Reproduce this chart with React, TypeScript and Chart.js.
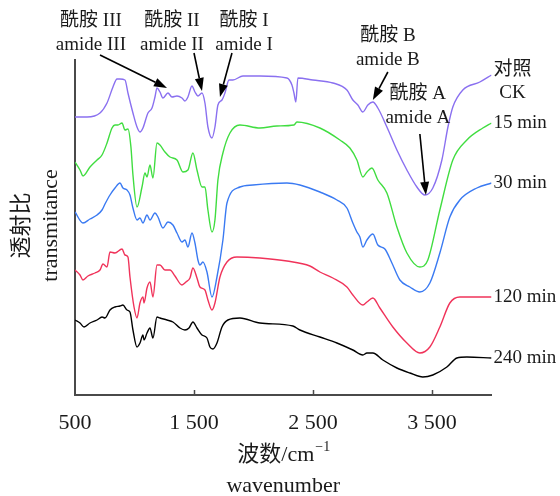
import React, { useEffect, useRef } from "react";
import { Chart, registerables } from "chart.js";

Chart.register(...registerables);

// ---------- data (wavenumber cm-1 / transmittance, arbitrary offset units) ----------
const xTicks = [500, 1500, 2500, 3500];

const ckWn = [500, 601, 710, 769, 819, 853, 878, 920, 945, 987, 1021, 1046, 1071, 1113, 1147, 1172, 1189, 1214, 1239, 1281, 1315, 1357, 1399, 1424, 1449, 1483, 1508, 1533, 1567, 1592, 1617, 1651, 1676, 1701, 1735, 1760, 1794, 1827, 1911, 2054, 2281, 2323, 2340, 2356, 2373, 2499, 2667, 2785, 2835, 2877, 2919, 2961, 3003, 3045, 3121, 3205, 3289, 3373, 3440, 3507, 3583, 3634, 3675, 3759, 3902, 4000];
const ckT = [278, 278, 282, 292, 308, 316, 316, 315, 302, 282, 268, 263, 267, 282, 287, 298, 307, 303, 297, 302, 298, 299, 297, 294, 298, 309, 303, 299, 302, 292, 268, 257, 268, 290, 295, 302, 315, 315, 319, 319, 317, 310, 302, 293, 317, 315, 312, 305, 295, 290, 283, 290, 293, 287, 268, 245, 225, 208, 200, 207, 235, 268, 288, 305, 313, 320];

const m15Wn = [500, 542, 567, 626, 685, 727, 769, 811, 836, 861, 895, 920, 945, 970, 987, 1021, 1063, 1088, 1105, 1130, 1155, 1189, 1214, 1256, 1298, 1357, 1407, 1449, 1491, 1525, 1567, 1592, 1617, 1651, 1676, 1701, 1743, 1802, 1886, 2054, 2197, 2340, 2365, 2558, 2726, 2810, 2869, 2919, 2953, 2995, 3045, 3121, 3205, 3289, 3398, 3465, 3566, 3675, 3793, 3927, 4000];
const m15T = [233, 225, 219, 228, 235, 240, 252, 267, 270, 270, 272, 265, 266, 248, 220, 188, 208, 222, 218, 230, 217, 252, 250, 243, 238, 235, 223, 225, 242, 225, 208, 208, 185, 163, 175, 215, 242, 262, 270, 267, 269, 270, 273, 267, 255, 247, 235, 218, 223, 227, 215, 202, 168, 142, 128, 135, 185, 235, 255, 267, 272];

const m30Wn = [500, 567, 626, 685, 727, 752, 794, 836, 878, 903, 937, 962, 987, 1021, 1046, 1071, 1105, 1130, 1172, 1197, 1239, 1281, 1323, 1357, 1399, 1424, 1449, 1483, 1508, 1533, 1550, 1575, 1609, 1651, 1693, 1743, 1777, 1886, 1995, 2281, 2390, 2558, 2701, 2785, 2835, 2869, 2894, 2919, 2953, 3003, 3045, 3104, 3163, 3230, 3314, 3398, 3482, 3566, 3650, 3734, 3877, 4000];
const m30T = [183, 172, 176, 180, 185, 191, 200, 207, 212, 207, 205, 200, 187, 175, 177, 172, 180, 175, 182, 178, 167, 173, 170, 162, 153, 155, 148, 162, 152, 135, 130, 133, 123, 98, 118, 155, 192, 208, 210, 212, 210, 203, 195, 187, 172, 163, 158, 148, 155, 161, 150, 146, 132, 115, 108, 103, 112, 142, 178, 195, 207, 212];

const m120Wn = [500, 542, 567, 609, 668, 710, 735, 769, 794, 836, 895, 920, 945, 962, 996, 1021, 1046, 1071, 1080, 1105, 1130, 1155, 1189, 1214, 1256, 1298, 1340, 1399, 1432, 1466, 1491, 1525, 1550, 1592, 1617, 1651, 1676, 1718, 1777, 1861, 2054, 2281, 2474, 2558, 2667, 2785, 2835, 2919, 2953, 3003, 3062, 3171, 3289, 3398, 3482, 3566, 3650, 3734, 3902, 4000];
const m120T = [125, 120, 115, 119, 122, 125, 131, 128, 143, 142, 146, 140, 138, 118, 88, 77, 92, 98, 92, 107, 113, 98, 130, 130, 125, 125, 119, 110, 113, 117, 127, 117, 108, 105, 95, 85, 92, 118, 133, 138, 137, 134, 129, 123, 117, 108, 100, 90, 93, 97, 87, 68, 52, 42, 48, 68, 92, 98, 98, 98];

const m240Wn = [500, 542, 576, 626, 685, 727, 752, 794, 836, 878, 903, 937, 962, 987, 1021, 1046, 1071, 1080, 1105, 1130, 1155, 1189, 1214, 1273, 1323, 1382, 1424, 1458, 1491, 1525, 1567, 1609, 1634, 1659, 1693, 1735, 1785, 1886, 2054, 2331, 2390, 2558, 2701, 2835, 2919, 2953, 3003, 3087, 3205, 3314, 3423, 3507, 3625, 3709, 3793, 4000];
const m240T = [75, 72, 68, 72, 75, 78, 77, 85, 88, 89, 90, 85, 83, 65, 48, 52, 60, 55, 62, 67, 57, 78, 77, 75, 73, 67, 65, 67, 73, 67, 60, 57, 48, 46, 52, 68, 75, 77, 72, 69, 65, 58, 52, 45, 40, 42, 42, 35, 27, 22, 18, 20, 28, 37, 38, 37];

const seriesLabels = [["对照", "CK"], ["15 min"], ["30 min"], ["120 min"], ["240 min"]];
const seriesWn = [ckWn, m15Wn, m30Wn, m120Wn, m240Wn];
const seriesT = [ckT, m15T, m30T, m120T, m240T];

const xTitleZh = "波数/cm";
const xTitleSup = "\u22121";
const xTitleEn = "wavenumber";
const yTitleZh = "透射比";
const yTitleEn = "transmitance";

// annotation anchors in data coordinates
const annotations = [
  { lines: ["酰胺 III", "amide III"], labelWn: 634, labelT: 374, fromWn: 710, fromT: 340, tipWn: 1273, tipT: 307 },
  { lines: ["酰胺 II", "amide II"], labelWn: 1315, labelT: 374, fromWn: 1500, fromT: 342, tipWn: 1567, tipT: 304 },
  { lines: ["酰胺 I", "amide I"], labelWn: 1920, labelT: 374, fromWn: 1819, fromT: 342, tipWn: 1718, tipT: 298 },
  { lines: ["酰胺 B", "amide B"], labelWn: 3129, labelT: 359, fromWn: 3129, fromT: 323, tipWn: 3003, tipT: 295 },
  { lines: ["酰胺 A", "amide A"], labelWn: 3381, labelT: 301, fromWn: 3398, fromT: 261, tipWn: 3449, tipT: 200 },
];

// ---------- styles ----------
const FONT = '"Liberation Serif", "Times New Roman", "Noto Sans CJK SC", serif';
const TEXT = "#1a1a1a";
const AXIS = "#4a4a4a";
const seriesColors = ["#8a70f0", "#40dd40", "#3a7af2", "#f0335a", "#000000"];

function fmtTick(v: number): string {
  if (v >= 1000) {
    const th = Math.floor(v / 1000);
    const rest = String(v % 1000).padStart(3, "0");
    return `${th} ${rest}`;
  }
  return String(v);
}

function drawArrow(ctx: CanvasRenderingContext2D, x1: number, y1: number, x2: number, y2: number) {
  const ang = Math.atan2(y2 - y1, x2 - x1);
  const headLen = 13;
  const headW = 4.5;
  const bx = x2 - headLen * Math.cos(ang);
  const by = y2 - headLen * Math.sin(ang);
  ctx.beginPath();
  ctx.moveTo(x1, y1);
  ctx.lineTo(bx, by);
  ctx.stroke();
  ctx.beginPath();
  ctx.moveTo(x2, y2);
  ctx.lineTo(bx + headW * Math.sin(ang), by - headW * Math.cos(ang));
  ctx.lineTo(bx - headW * Math.sin(ang), by + headW * Math.cos(ang));
  ctx.closePath();
  ctx.fill();
}

const decorPlugin = {
  id: "decor",
  afterDraw(chart: any) {
    const ctx: CanvasRenderingContext2D = chart.ctx;
    const { left, right, top, bottom } = chart.chartArea;
    const xs = chart.scales.x;
    const ys = chart.scales.y;
    ctx.save();

    // inward tick marks
    ctx.strokeStyle = AXIS;
    ctx.lineWidth = 1.5;
    xTicks.slice(1).forEach((v) => {
      const px = Math.round(xs.getPixelForValue(v)) + 0.5;
      ctx.beginPath();
      ctx.moveTo(px, bottom);
      ctx.lineTo(px, bottom - 5);
      ctx.stroke();
    });

    // x title
    ctx.fillStyle = TEXT;
    ctx.textBaseline = "middle";
    const cx = (left + right) / 2;
    ctx.font = `22px ${FONT}`;
    const w1 = ctx.measureText(xTitleZh).width;
    ctx.font = `14px ${FONT}`;
    const w2 = ctx.measureText(xTitleSup).width;
    const sx = cx - (w1 + w2) / 2;
    ctx.textAlign = "left";
    ctx.font = `22px ${FONT}`;
    ctx.fillText(xTitleZh, sx, bottom + 60);
    ctx.font = `14px ${FONT}`;
    ctx.fillText(xTitleSup, sx + w1 + 1, bottom + 52);
    ctx.font = `22px ${FONT}`;
    ctx.textAlign = "center";
    ctx.fillText(xTitleEn, cx, bottom + 91);

    // y title
    const cy = (top + bottom) / 2 - 2;
    [[yTitleZh, left - 53], [yTitleEn, left - 24]].forEach(([t, xx]) => {
      ctx.save();
      ctx.translate(xx as number, cy);
      ctx.rotate(-Math.PI / 2);
      ctx.textAlign = "center";
      ctx.fillText(t as string, 0, 0);
      ctx.restore();
    });

    // annotations
    ctx.font = `19px ${FONT}`;
    ctx.textAlign = "center";
    ctx.strokeStyle = "#000";
    ctx.fillStyle = "#000";
    ctx.lineWidth = 1.6;
    annotations.forEach((a) => {
      const lx = xs.getPixelForValue(a.labelWn);
      const ly = ys.getPixelForValue(a.labelT);
      ctx.fillStyle = TEXT;
      a.lines.forEach((ln, i) => ctx.fillText(ln, lx, ly + i * 24));
      ctx.fillStyle = "#000";
      drawArrow(
        ctx,
        xs.getPixelForValue(a.fromWn),
        ys.getPixelForValue(a.fromT),
        xs.getPixelForValue(a.tipWn),
        ys.getPixelForValue(a.tipT)
      );
    });

    // series labels at line ends
    ctx.fillStyle = TEXT;
    seriesLabels.forEach((lbl, i) => {
      const vals = seriesT[i];
      const ey = ys.getPixelForValue(vals[vals.length - 1]);
      if (lbl.length > 1) {
        ctx.textAlign = "center";
        ctx.fillText(lbl[0], right + 21, ey - 5);
        ctx.fillText(lbl[1], right + 21, ey + 18);
      } else {
        ctx.textAlign = "left";
        ctx.fillText(lbl[0], right + 2, ey);
      }
    });

    ctx.restore();
  },
};

export default function App() {
  const ref = useRef<HTMLCanvasElement | null>(null);

  useEffect(() => {
    if (!ref.current) return;
    const datasets = seriesWn.map((wn, i) => ({
      label: seriesLabels[i].join(" "),
      data: wn.map((x, j) => ({ x, y: seriesT[i][j] })),
      borderColor: seriesColors[i],
      backgroundColor: seriesColors[i],
      borderWidth: 1.4,
      pointRadius: 0,
      fill: false,
      cubicInterpolationMode: "monotone" as const,
    }));

    const chart = new Chart(ref.current, {
      type: "line",
      data: { datasets },
      options: {
        animation: false,
        responsive: false,
        events: [],
        layout: { padding: { left: 75, right: 68.5, top: 60, bottom: 44.6 } },
        plugins: { legend: { display: false }, tooltip: { enabled: false } },
        scales: {
          x: {
            type: "linear",
            min: 500,
            max: 4000,
            grid: { display: false, drawTicks: false },
            border: { display: true, color: AXIS, width: 2 },
            afterBuildTicks: (scale: any) => {
              scale.ticks = xTicks.map((v) => ({ value: v }));
            },
            ticks: {
              autoSkip: false,
              maxRotation: 0,
              padding: 15,
              color: TEXT,
              font: { family: FONT, size: 22 },
              callback: (v: any) => fmtTick(Number(v)),
            },
          },
          y: {
            type: "linear",
            min: 0,
            max: 335,
            grid: { display: false, drawTicks: false },
            border: { display: true, color: AXIS, width: 2 },
            ticks: { display: false },
          },
        },
      },
      plugins: [decorPlugin],
    });
    return () => chart.destroy();
  }, []);

  return (
    <div style={{ position: "fixed", left: 0, top: 0, width: 560, height: 496, background: "#fff" }}>
      <canvas ref={ref} width={560} height={496} style={{ display: "block" }} />
    </div>
  );
}
